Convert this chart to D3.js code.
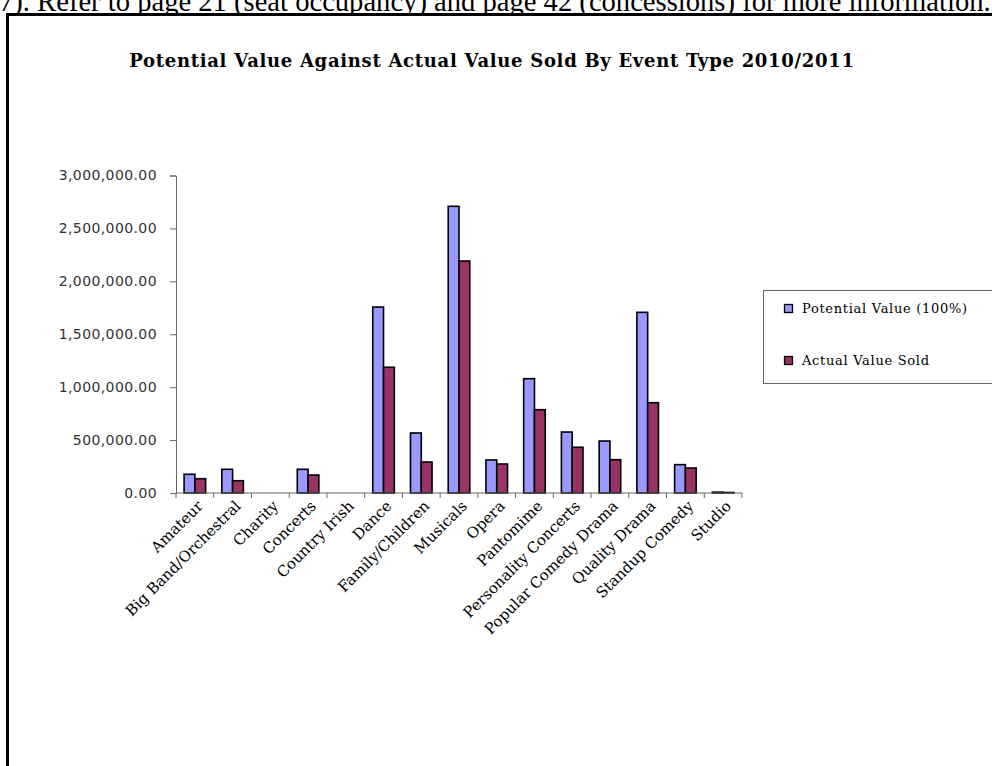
<!DOCTYPE html>
<html>
<head>
    <title>Potential vs Actual Value</title>
    <script src="https://d3js.org/d3.v7.min.js"></script>
    <style>
        body { margin: 0; background: #fff; }
        svg { display: block; }
    </style>
</head>
<body>
    <svg id="chart" width="992" height="766"></svg>

    <script>
        // values
        var categories = ["Amateur", "Big Band/Orchestral", "Charity", "Concerts", "Country Irish",
            "Dance", "Family/Children", "Musicals", "Opera", "Pantomime", "Personality Concerts",
            "Popular Comedy Drama", "Quality Drama", "Standup Comedy", "Studio"];
        var potentialValue = [177000, 224000, 0, 224000, 0, 1757000, 567000, 2709000, 312000,
            1080000, 576000, 491000, 1707000, 268000, 8000];
        var actualValue = [135000, 116000, 0, 170000, 0, 1188000, 293000, 2192000, 274000,
            787000, 432000, 315000, 853000, 236000, 5000];
        var seriesNames = ["Potential Value (100%)", "Actual Value Sold"];
        var seriesColors = ["#9999ff", "#993366"];
        var yTicks = [0, 500000, 1000000, 1500000, 2000000, 2500000, 3000000];

        var svg = d3.select("#chart");

        // bit of the page text above the chart frame
        svg.append("text")
            .attr("x", -1)
            .attr("y", 11)
            .style("font-family", "Liberation Serif, serif")
            .style("font-size", "28.6px")
            .text("7). Refer to page 21 (seat occupancy) and page 42 (concessions) for more information.");

        // chart frame, runs off the page on right and bottom
        svg.append("rect")
            .attr("x", 7.5)
            .attr("y", 14.5)
            .attr("width", 1100)
            .attr("height", 900)
            .attr("fill", "#fff")
            .attr("stroke", "#000")
            .attr("stroke-width", 3);

        svg.append("text")
            .attr("x", 492)
            .attr("y", 67)
            .attr("text-anchor", "middle")
            .style("font-family", "DejaVu Serif, serif")
            .style("font-weight", "bold")
            .style("font-size", "18px")
            .style("letter-spacing", "0.7px")
            .text("Potential Value Against Actual Value Sold By Event Type 2010/2011");

        var x = d3.scaleBand(categories, [176, 742]);
        var y = d3.scaleLinear([0, 3000000], [493, 175.5]);
        var bw = x.bandwidth() / 3.5;   // gap width 150%

        // y axis
        var yAxis = svg.append("g")
            .attr("transform", "translate(176,0)")
            .call(d3.axisLeft(y).tickValues(yTicks).tickSize(6).tickPadding(13)
                .tickFormat(d3.format(",.2f")));
        yAxis.select(".domain").attr("stroke", "#666");
        yAxis.selectAll(".tick line").attr("stroke", "#666");
        yAxis.selectAll("text")
            .attr("fill", "#333")
            .style("font-family", "DejaVu Sans, sans-serif")
            .style("font-size", "14px")
            .style("letter-spacing", "0.4px");

        // bars
        var series = [potentialValue, actualValue];
        series.forEach(function (vals, s) {
            svg.append("g").selectAll("rect")
                .data(vals).enter()
                .append("rect")
                .attr("x", (d, i) => x(categories[i]) + 0.75 * bw + s * bw)
                .attr("y", d => y(d))
                .attr("width", bw)
                .attr("height", d => y(0) - y(d))
                .attr("fill", seriesColors[s])
                .attr("stroke", "#000")
                .attr("stroke-width", 1.6);
        });

        // x axis with ticks between categories
        var xAxis = svg.append("g").attr("transform", "translate(0,493)");
        xAxis.append("line")
            .attr("x1", 176).attr("x2", 742)
            .attr("stroke", "#666");
        xAxis.selectAll(".xt")
            .data(categories.concat([null])).enter()
            .append("line")
            .attr("x1", (d, i) => 176 + i * x.step())
            .attr("x2", (d, i) => 176 + i * x.step())
            .attr("y1", 0).attr("y2", 5)
            .attr("stroke", "#666");

        svg.append("g").selectAll("text")
            .data(categories).enter()
            .append("text")
            .attr("text-anchor", "end")
            .attr("transform", d => "translate(" + (x(d) + x.bandwidth() / 2 + 9) + ",507) rotate(-45)")
            .style("font-family", "DejaVu Serif, serif")
            .style("font-size", "15px")
            .text(d => d);

        // legend
        var legend = svg.append("g");
        legend.append("rect")
            .attr("x", 763.5).attr("y", 290.5)
            .attr("width", 300).attr("height", 93)
            .attr("fill", "#fff")
            .attr("stroke", "#666");
        seriesNames.forEach(function (n, s) {
            legend.append("rect")
                .attr("x", 784.5).attr("y", 304.5 + s * 52)
                .attr("width", 8).attr("height", 8)
                .attr("fill", seriesColors[s])
                .attr("stroke", "#000")
                .attr("stroke-width", 1.3);
            legend.append("text")
                .attr("x", 802).attr("y", 313 + s * 52)
                .style("font-family", "DejaVu Serif, serif")
                .style("font-size", "13px")
                .style("letter-spacing", "0.7px")
                .text(n);
        });
    </script>
</body>
</html>
